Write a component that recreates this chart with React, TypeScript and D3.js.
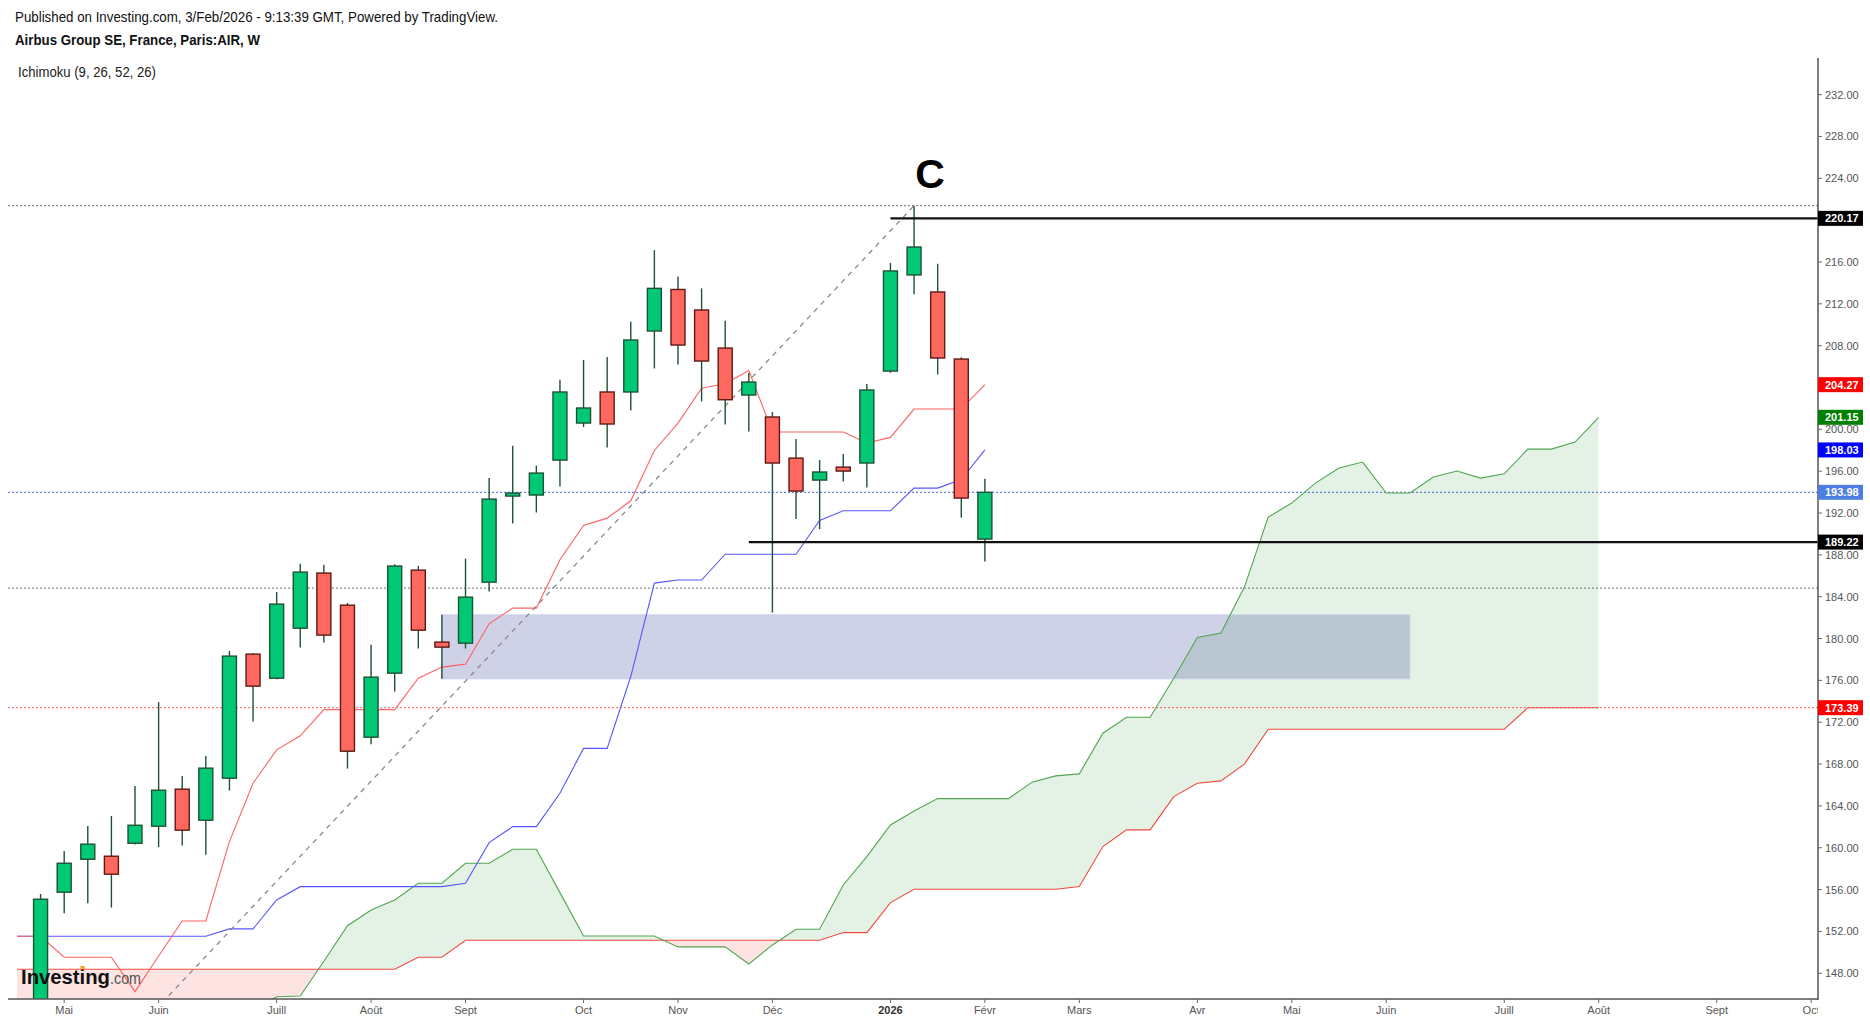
import { useEffect } from 'react'
import * as d3 from 'd3'

const W = 1870
const H = 1023

// weekly bars, index 0 = week of 28 Apr 2025, index 40 = week of 2 Feb 2026
const opens = [143.5, 155.75, 158.9, 159.19, 160.43, 162.06, 165.6, 162.63, 166.65, 178.51, 176.21, 180.99, 186.26, 183.19, 170.57, 176.69, 186.54, 179.66, 179.56, 185.39, 193.62, 193.72, 197.06, 200.6, 203.57, 203.57, 209.4, 213.37, 211.41, 207.77, 203.28, 201.18, 197.25, 195.15, 196.39, 196.78, 205.57, 214.76, 213.13, 206.72, 189.51]
const highs = [155.58, 159.7, 162.09, 163.04, 165.91, 173.92, 166.86, 168.78, 178.82, 178.6, 184.44, 187.15, 187.05, 183.4, 179.4, 187.1, 186.95, 182.27, 187.64, 195.34, 198.43, 196.53, 204.74, 206.64, 206.92, 210.29, 217.13, 214.62, 213.48, 210.38, 205.38, 201.65, 199.07, 197.06, 197.64, 204.33, 215.9, 221.38, 215.83, 206.9, 195.27]
const lows = [142.8, 153.74, 154.69, 154.28, 160.3, 160.05, 160.21, 159.34, 165.46, 172.06, 176.1, 179.14, 179.62, 167.57, 169.9, 174.93, 179.05, 176.15, 179.05, 184.5, 191.0, 192.05, 194.54, 200.22, 198.27, 201.81, 205.82, 206.21, 202.67, 200.47, 199.8, 182.49, 191.42, 190.46, 195.02, 194.45, 205.4, 212.92, 205.25, 191.57, 187.37]
const closes = [155.08, 158.52, 160.34, 157.47, 162.15, 165.5, 161.68, 167.61, 178.32, 175.45, 183.29, 186.35, 180.33, 169.23, 176.31, 186.93, 180.8, 179.18, 183.96, 193.33, 193.91, 195.82, 203.57, 202.04, 200.51, 208.54, 213.48, 208.06, 206.53, 202.83, 204.52, 196.78, 194.1, 195.92, 196.01, 203.76, 215.14, 217.43, 206.82, 193.43, 193.98]

// ichimoku lines, first value sits at index -1
const tenkan = [151.54, 151.54, 149.53, 149.53, 149.53, 146.24, 149.65, 153.0, 153.0, 160.59, 166.17, 169.36, 170.7, 173.2, 173.2, 173.2, 173.2, 176.21, 177.27, 177.55, 181.41, 182.91, 182.91, 187.53, 190.81, 191.51, 193.17, 197.98, 200.59, 203.94, 204.36, 205.63, 199.75, 199.75, 199.75, 199.75, 198.69, 199.23, 201.94, 201.94, 201.94, 204.27]
const kijun = [151.54, 151.54, 151.54, 151.54, 151.54, 151.54, 151.54, 151.54, 151.54, 152.24, 152.24, 155.01, 156.28, 156.28, 156.28, 156.28, 156.28, 156.28, 156.28, 156.61, 160.49, 162.02, 162.02, 165.21, 169.5, 169.5, 176.37, 185.3, 185.59, 185.59, 188.06, 188.06, 188.06, 188.06, 191.29, 192.21, 192.21, 192.21, 194.38, 194.38, 195.2, 198.03]
// leading spans (already shifted 26 weeks forward), first value at index -1
const spanA = [144.5, 144.5, 144.5, 144.5, 144.5, 144.5, 144.5, 144.5, 144.5, 144.5, 144.5, 145.76, 145.83, 149.15, 152.55, 154.05, 155.01, 156.61, 156.61, 158.52, 158.52, 159.86, 159.86, 155.71, 151.57, 151.57, 151.57, 151.57, 150.52, 150.52, 150.52, 148.89, 150.71, 152.21, 152.21, 156.44, 159.15, 162.18, 163.52, 164.7, 164.7, 164.7, 164.7, 166.27, 166.87, 167.06, 170.95, 172.48, 172.48, 176.21, 180.1, 180.52, 184.97, 191.61, 192.95, 194.86, 196.3, 196.87, 193.91, 193.91, 195.44, 196.01, 195.34, 195.75, 198.11, 198.11, 198.78, 201.15]
const spanB = [148.38, 148.38, 148.38, 148.38, 148.38, 148.38, 148.38, 148.38, 148.38, 148.38, 148.38, 148.38, 148.38, 148.38, 148.38, 148.38, 148.38, 149.53, 149.53, 151.16, 151.16, 151.16, 151.16, 151.16, 151.16, 151.16, 151.16, 151.16, 151.16, 151.16, 151.16, 151.16, 151.16, 151.16, 151.16, 151.89, 151.89, 154.76, 156.03, 156.03, 156.03, 156.03, 156.03, 156.03, 156.03, 156.29, 160.11, 161.71, 161.71, 164.89, 166.17, 166.39, 168.02, 171.33, 171.33, 171.33, 171.33, 171.33, 171.33, 171.33, 171.33, 171.33, 171.33, 171.33, 173.39, 173.39, 173.39, 173.39]

const monthTicks = [
  { i: 1, label: 'Mai' }, { i: 5, label: 'Juin' }, { i: 10, label: 'Juill' }, { i: 14, label: 'Août' },
  { i: 18, label: 'Sept' }, { i: 23, label: 'Oct' }, { i: 27, label: 'Nov' }, { i: 31, label: 'Déc' },
  { i: 36, label: '2026', bold: true }, { i: 40, label: 'Févr' }, { i: 44, label: 'Mars' }, { i: 49, label: 'Avr' },
  { i: 53, label: 'Mai' }, { i: 57, label: 'Juin' }, { i: 62, label: 'Juill' }, { i: 66, label: 'Août' },
  { i: 71, label: 'Sept' }, { i: 75, label: 'Oct' }
]
const priceTicks = [148, 152, 156, 160, 164, 168, 172, 176, 180, 184, 188, 192, 196, 200, 204, 208, 212, 216, 220, 224, 228, 232]

const dottedLevels = [
  { v: 221.38, color: '#6e6e6e' },
  { v: 184.82, color: '#6e6e6e' },
  { v: 193.98, color: '#3d62d8' },
  { v: 173.39, color: '#ff5a5a' }
]
const drawnLevels = [
  { v: 220.17, from: 36 },
  { v: 189.22, from: 30 }
]
const priceTags = [
  { v: 220.17, bg: '#000000' },
  { v: 204.27, bg: '#ff0000' },
  { v: 201.15, bg: '#008000' },
  { v: 198.03, bg: '#0000ff' },
  { v: 193.98, bg: '#4f7ee3' },
  { v: 189.22, bg: '#000000' },
  { v: 173.39, bg: '#ff0000' }
]
const zone = { from: 17, to: 58, top: 182.27, bottom: 176.15 }
const trendLine = [{ i: -3, v: 125.7 }, { i: 37, v: 221.38 }]

export default function App() {
  useEffect(() => {
    document.body.style.margin = '0'
  }, [])

  const x = d3.scaleLinear().domain([-1.38, 75.29]).range([8, 1818])
  const y = d3.scaleLinear().domain([145.54, 235.5]).range([999, 58])

  const lineFrom = (start: number) =>
    d3.line<number>().x((_, k) => x(k + start)).y(d => y(d))

  const idx = spanA.map((_, k) => k - 1)
  const cloud = d3.area<number>()
    .x(j => x(j))
    .y0(j => y(spanA[j + 1]))
    .y1(j => y(spanB[j + 1]))
  const aboveB = d3.area<number>().x(j => x(j)).y0(0).y1(j => y(spanB[j + 1]))
  const belowB = d3.area<number>().x(j => x(j)).y0(j => y(spanB[j + 1])).y1(H)

  const bodyW = 14
  const bars = opens.map((o, i) => ({ i, o, h: highs[i], l: lows[i], c: closes[i] }))

  return (
    <svg
      width={W}
      height={H}
      style={{ position: 'absolute', left: 0, top: 0, background: '#ffffff' }}
      fontFamily="'Liberation Sans', Arial, sans-serif"
    >
      <defs>
        <clipPath id="plot">
          <rect x={8} y={58} width={1810} height={941} />
        </clipPath>
        <clipPath id="aboveB">
          <path d={aboveB(idx) || ''} />
        </clipPath>
        <clipPath id="belowB">
          <path d={belowB(idx) || ''} />
        </clipPath>
        <clipPath id="xlabels">
          <rect x={0} y={999} width={1818} height={24} />
        </clipPath>
      </defs>
      <rect width={W} height={H} fill="#ffffff" />

      {/* header */}
      <text x={15} y={21.5} fontSize={15} fill="#111" textLength={483} lengthAdjust="spacingAndGlyphs">
        Published on Investing.com, 3/Feb/2026 - 9:13:39 GMT, Powered by TradingView.
      </text>
      <text x={15} y={45} fontSize={15.5} fontWeight="bold" fill="#111" textLength={245} lengthAdjust="spacingAndGlyphs">
        Airbus Group SE, France, Paris:AIR, W
      </text>
      <text x={18} y={77} fontSize={14} fill="#222" textLength={138} lengthAdjust="spacingAndGlyphs">
        Ichimoku (9, 26, 52, 26)
      </text>

      <g clipPath="url(#plot)">
        {/* kumo */}
        <path d={cloud(idx) || ''} fill="rgba(67,160,71,0.14)" clipPath="url(#aboveB)" />
        <path d={cloud(idx) || ''} fill="rgba(244,67,54,0.15)" clipPath="url(#belowB)" />

        {/* zone rectangle */}
        <rect
          x={x(zone.from)}
          y={y(zone.top)}
          width={x(zone.to) - x(zone.from)}
          height={y(zone.bottom) - y(zone.top)}
          fill="rgba(0,10,120,0.19)"
          stroke="rgba(200,206,235,0.9)"
          strokeWidth={1}
        />

        {/* dotted horizontal levels */}
        {dottedLevels.map(d => (
          <line key={d.v} x1={8} x2={1818} y1={y(d.v)} y2={y(d.v)} stroke={d.color} strokeWidth={1} strokeDasharray="2 2" />
        ))}

        {/* ichimoku lines */}
        <path d={lineFrom(-1)(spanB) || ''} fill="none" stroke="#ee4b43" strokeWidth={1.1} />
        <path d={lineFrom(-1)(spanA) || ''} fill="none" stroke="#52a552" strokeWidth={1.1} />
        <path d={lineFrom(-1)(kijun) || ''} fill="none" stroke="#5757ff" strokeWidth={1.1} />
        <path d={lineFrom(-1)(tenkan) || ''} fill="none" stroke="#ff6262" strokeWidth={1.1} />

        {/* trend line */}
        <line
          x1={x(trendLine[0].i)} y1={y(trendLine[0].v)}
          x2={x(trendLine[1].i)} y2={y(trendLine[1].v)}
          stroke="#8a8a8a" strokeWidth={1.3} strokeDasharray="5 5"
        />

        {/* candles */}
        {bars.map(b => {
          const cx = x(b.i)
          const up = b.c >= b.o
          const top = y(Math.max(b.o, b.c))
          const bot = y(Math.min(b.o, b.c))
          return (
            <g key={b.i}>
              <line x1={cx} x2={cx} y1={y(b.h)} y2={y(b.l)} stroke="#1d5234" strokeWidth={1.4} />
              <rect
                x={cx - bodyW / 2}
                y={top}
                width={bodyW}
                height={Math.max(1.5, bot - top)}
                fill={up ? '#00c875' : '#ff685e'}
                stroke={up ? '#1d5234' : '#5c1a14'}
                strokeWidth={1.4}
              />
            </g>
          )
        })}

        {/* drawn levels */}
        {drawnLevels.map(d => (
          <line key={d.v} x1={x(d.from)} x2={1818} y1={y(d.v)} y2={y(d.v)} stroke="#111" strokeWidth={2.2} />
        ))}

        <text x={930} y={188} fontSize={41} fontWeight="bold" textAnchor="middle" fill="#000">C</text>

        {/* logo */}
        <text x={21} y={984} fontSize={21} fontWeight="bold" fill="#111" textLength={89} lengthAdjust="spacingAndGlyphs">Investing</text>
        <rect x={80.5} y={966} width={4} height={3.5} fill="#f7a21b" />
        <text x={110} y={984} fontSize={17} fill="#555" textLength={31} lengthAdjust="spacingAndGlyphs">.com</text>
      </g>

      {/* axes */}
      <line x1={1818} x2={1818} y1={58} y2={1000} stroke="#555" strokeWidth={1.5} />
      <line x1={8} x2={1818} y1={999} y2={999} stroke="#555" strokeWidth={1.5} />

      {priceTicks.map(v => (
        <g key={v}>
          <line x1={1818} x2={1822} y1={y(v)} y2={y(v)} stroke="#666" strokeWidth={1} />
          <text x={1825} y={y(v) + 4} fontSize={11} fill="#555">{v.toFixed(2)}</text>
        </g>
      ))}

      {priceTags.map(t => (
        <g key={t.v}>
          <rect x={1818} y={y(t.v) - 7.5} width={45} height={15} fill={t.bg} />
          <text x={1825} y={y(t.v) + 4} fontSize={11} fontWeight="bold" fill="#fff">{t.v.toFixed(2)}</text>
        </g>
      ))}

      <g clipPath="url(#xlabels)">
        {monthTicks.map(m => (
          <g key={m.i}>
            <line x1={x(m.i)} x2={x(m.i)} y1={999} y2={1003} stroke="#666" strokeWidth={1} />
            <text
              x={x(m.i)}
              y={1014}
              fontSize={11}
              textAnchor="middle"
              fontWeight={m.bold ? 'bold' : 'normal'}
              fill={m.bold ? '#333' : '#555'}
            >
              {m.label}
            </text>
          </g>
        ))}
      </g>
    </svg>
  )
}
